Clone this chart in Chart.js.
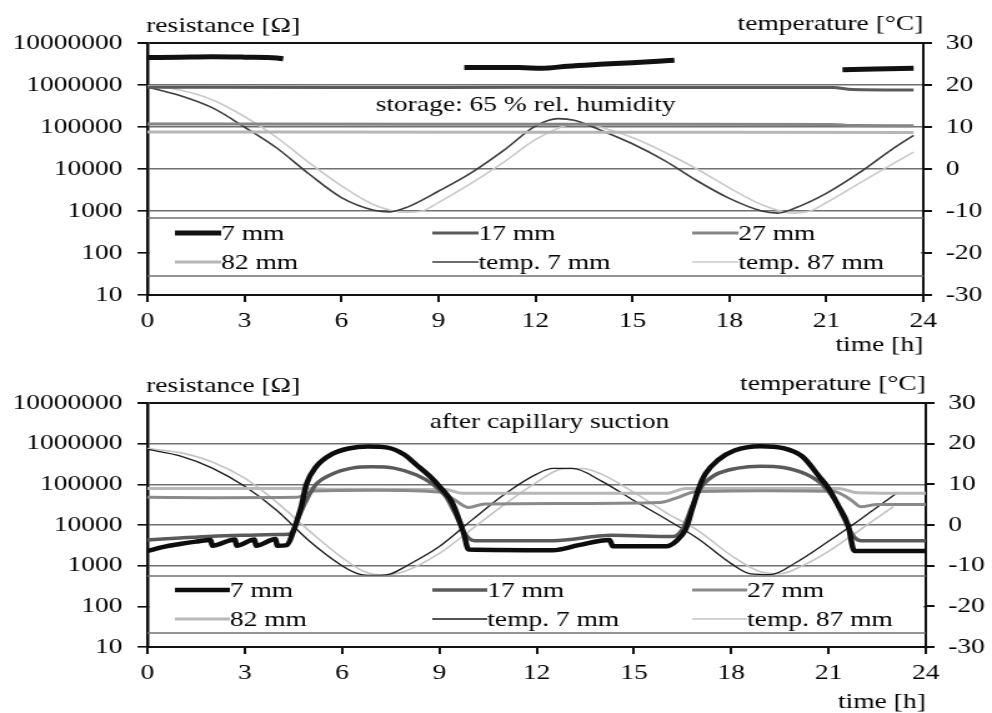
<!DOCTYPE html>
<html lang="en">
<head>
<meta charset="UTF-8">
<title>resistance and temperature, 24 h</title>
<script src="https://cdn.jsdelivr.net/npm/chart.js"></script>
<style>
  body { margin: 0; background: #fff; }
  canvas { display: block; }
</style>
</head>
<body>
<!-- drawn 794 px wide and shown 992 px wide: the scanned figure is stretched sideways -->
<canvas id="topChart" width="794" height="355" style="width:992px;height:355px"></canvas>
<canvas id="bottomChart" width="794" height="358" style="width:992px;height:358px"></canvas>
<script>
// axes
const timeTicks = [0, 3, 6, 9, 12, 15, 18, 21, 24];
const resTicks = [10, 100, 1000, 10000, 100000, 1000000, 10000000];
const tempTicks = [-30, -20, -10, 0, 10, 20, 30];
const seriesLabels = ['7 mm', '17 mm', '27 mm', '82 mm', 'temp. 7 mm', 'temp. 87 mm'];

// top: storage at 65 % rel. humidity  [time h, value]
const top7mm = [[0, 4.5e6], [1, 4.6e6], [2, 4.7e6], [3, 4.6e6], [4, 4.4e6], [4.2, 4.2e6], [4.3, null],
  [9.8, 2.6e6], [10.5, 2.6e6], [11.5, 2.6e6], [12.2, 2.5e6], [13, 2.8e6], [14, 3.1e6], [15, 3.4e6], [15.8, 3.7e6], [16.3, 3.9e6], [16.4, null],
  [21.5, 2.3e6], [22.5, 2.4e6], [23.7, 2.5e6]];
const top17mm = [[0, 8.9e5], [6, 8.7e5], [12, 8.8e5], [18, 8.7e5], [21.2, 8.7e5], [21.8, 7.8e5], [23.7, 7.6e5]];
const top27mm = [[0, 1.18e5], [8, 1.16e5], [16, 1.17e5], [21.2, 1.15e5], [21.8, 1.08e5], [23.7, 1.07e5]];
const top82mm = [[0, 7.6e4], [12, 7.5e4], [23.7, 7.4e4]];
const topTemp7 = [[0, 19.5], [1, 17.5], [2, 14.6], [3, 10], [4, 5], [5, -1.2], [6, -6.8], [7, -9.8], [7.5, -10.2], [8, -9.2],
  [9, -5.3], [10, -1], [11, 4.3], [12, 10.2], [12.7, 12], [13.2, 11.6], [14, 9.3], [15, 6], [16, 2], [17, -2.8], [18, -7],
  [19, -10], [19.5, -10.5], [20, -9.4], [21, -5.8], [22, -1], [23, 4.5], [23.7, 8]];
const topTemp87 = [[0, 19.8], [1, 18.8], [2, 16.5], [3, 12.5], [4, 7.5], [5, 1.5], [6, -4], [7, -8.5], [8, -10.3], [8.5, -10],
  [9, -8], [10, -3.5], [11, 1.5], [12, 7], [13, 10.5], [13.5, 10.8], [14, 10], [15, 7.5], [16, 4], [17, 0], [18, -4.5],
  [19, -8.5], [20, -10.5], [20.5, -10], [21, -8], [22, -3.5], [23, 1], [23.7, 4]];

// bottom: after capillary suction
const bot7mm = [[0, 2300], [0.5, 2900], [1, 3400], [1.5, 3900], [1.95, 4300], [2, 3100], [2.7, 4400], [2.75, 3100],
  [3.3, 4400], [3.35, 3100], [3.95, 4500], [4, 3100], [4.3, 3200], [4.5, 7000], [4.6, 1.2e4], [4.75, 3e4], [4.9, 1e5],
  [5.2, 2.7e5], [5.7, 5.6e5], [6.2, 7.6e5], [6.8, 8.5e5], [7.4, 8e5], [7.9, 5.5e5], [8.3, 3e5], [8.7, 1.6e5], [9, 9e4],
  [9.4, 3.5e4], [9.75, 6300], [9.9, 2500], [12.5, 2400], [13.3, 3200], [14.25, 4300], [14.35, 3000], [16, 3000],
  [16.3, 4000], [16.6, 8000], [16.8, 2.5e4], [17, 8e4], [17.2, 1.8e5], [17.6, 4e5], [18.1, 6.8e5], [18.9, 8.7e5],
  [19.6, 7.8e5], [20.2, 4.8e5], [20.7, 1.6e5], [21, 8e4], [21.3, 3e4], [21.6, 1e4], [21.8, 2300], [24, 2300]];
const bot17mm = [[0, 4300], [1, 4800], [2, 5300], [3, 5600], [4, 5800], [4.4, 6000], [4.6, 1.2e4], [4.9, 4e4], [5.2, 1e5],
  [5.7, 1.8e5], [6.3, 2.5e5], [6.9, 2.7e5], [7.6, 2.5e5], [8.3, 1.7e5], [8.8, 1e5], [9.2, 5e4], [9.5, 1.8e4], [9.8, 6000],
  [10.1, 4100], [12.5, 4100], [14.3, 5600], [16.2, 5200], [16.5, 8000], [16.8, 3e4], [17.1, 9e4], [17.5, 1.7e5],
  [18.2, 2.5e5], [18.9, 2.8e5], [19.6, 2.6e5], [20.3, 1.8e5], [20.8, 1e5], [21.2, 4e4], [21.5, 1.3e4], [21.8, 5000],
  [22, 4100], [24, 4100]];
const bot27mm = [[0, 4.8e4], [2, 4.7e4], [4.6, 4.8e4], [5.1, 6.9e4], [7, 7.2e4], [9, 6.5e4], [9.5, 4e4], [9.9, 2.7e4],
  [10.4, 3.3e4], [12.7, 3.4e4], [15.8, 3.6e4], [16.3, 4.6e4], [16.9, 6.6e4], [19, 7e4], [21.15, 6.8e4], [21.7, 4.1e4],
  [22, 2.8e4], [22.5, 3.2e4], [24, 3.2e4]];
const bot82mm = [[0, 7.9e4], [4.8, 7.9e4], [5.5, 7.6e4], [9.2, 7.5e4], [9.7, 6e4], [16, 6e4], [16.6, 7.9e4], [21.3, 7.9e4],
  [21.9, 6.2e4], [24, 6e4]];
const botTemp7 = [[0, 18.6], [1, 17], [2, 14], [3, 9.5], [4, 3.5], [5, -4], [6, -10], [6.5, -12], [7, -12.4], [7.5, -12],
  [8, -10], [9, -5.3], [10, 1.2], [11, 7.5], [12, 12.5], [12.5, 13.9], [13.1, 13.9], [14, 10.8], [15, 6], [16, 1.4],
  [17, -3.5], [18, -9.5], [18.6, -12], [19.2, -12.2], [20, -9.2], [21, -4], [22, 1.5], [23.1, 7.8]];
const botTemp87 = [[0, 18.8], [1, 17.8], [2, 15.5], [3, 11.5], [4, 5.5], [5, -1.5], [6, -8], [6.7, -11.5], [7.3, -12.3],
  [7.9, -11.5], [9, -7], [10, -1], [11, 5], [12, 10.5], [12.8, 13.8], [13.4, 13.9], [14, 12.5], [15, 8], [16, 3],
  [17, -1.5], [18, -7.5], [18.9, -11.5], [19.5, -12], [20.2, -10], [21, -6.5], [22, -1], [23, 4.5]];

const FONT = { family: "'Liberation Serif', 'DejaVu Serif', serif", size: 22 };
const INK = '#000';
const GRID = '#707070';

function pts(list) {
  return list.map(p => ({ x: p[0], y: p[1] }));
}

function line(i, list, axis, color, width) {
  return {
    label: seriesLabels[i], data: pts(list), yAxisID: axis,
    borderColor: color, borderWidth: width, pointRadius: 0,
    cubicInterpolationMode: 'monotone', spanGaps: false, fill: false
  };
}

// legend box, axis captions and the note inside the plot
const overlay = {
  id: 'overlay',
  afterDatasetsDraw(chart, args, o) {
    const ctx = chart.ctx, a = chart.chartArea;
    const top = a.bottom - o.boxTop, bot = a.bottom - o.boxBottom;
    ctx.save();
    ctx.fillStyle = '#fff';
    ctx.fillRect(a.left + 2, top, a.right - a.left - 4, bot - top);
    ctx.strokeStyle = GRID;
    ctx.lineWidth = 1.5;
    [top, bot].forEach(y => {
      ctx.beginPath(); ctx.moveTo(a.left, y); ctx.lineTo(a.right, y); ctx.stroke();
    });
    ctx.font = `${FONT.size}px ${FONT.family}`;
    ctx.textBaseline = 'middle';
    ctx.textAlign = 'left';
    ctx.fillStyle = INK;
    chart.data.datasets.forEach((ds, i) => {
      const x = a.left + [22, 228, 436][i % 3];
      const y = top + (i < 3 ? o.row1 : o.row2);
      ctx.strokeStyle = ds.borderColor;
      ctx.lineWidth = ds.borderWidth;
      ctx.beginPath(); ctx.moveTo(x, y); ctx.lineTo(x + o.sample, y); ctx.stroke();
      ctx.fillText(ds.label, x + o.sample, y + 1);
    });
    ctx.fillText('resistance [Ω]', a.left - 1, a.top - 17);
    ctx.textAlign = 'right';
    ctx.fillText('temperature [°C]', a.right, a.top - 19);
    ctx.fillText('time [h]', a.right, a.bottom + o.timeY);
    ctx.textAlign = 'center';
    ctx.fillText(o.note, chart.scales.x.getPixelForValue(o.noteX), a.top + o.noteY);
    ctx.restore();
  }
};

function makeChart(id, datasets, cfg) {
  return new Chart(document.getElementById(id), {
    type: 'line',
    data: { datasets },
    plugins: [overlay],
    options: {
      responsive: false,
      animation: false,
      events: [],
      layout: { padding: { top: cfg.top, left: 0, right: 0, bottom: 0 } },
      plugins: { legend: { display: false }, tooltip: { enabled: false }, overlay: cfg.overlay },
      scales: {
        x: {
          type: 'linear', min: 0, max: 24,
          afterBuildTicks: s => { s.ticks = timeTicks.map(v => ({ value: v })); },
          afterFit: s => { s.height = cfg.xHeight; },
          grid: { drawOnChartArea: false, tickLength: 7, color: '#111', lineWidth: 2 },
          border: { color: '#111', width: 2 },
          ticks: { font: FONT, color: INK, padding: 6, maxRotation: 0 }
        },
        y: {
          type: 'logarithmic', position: 'left', min: 10, max: 1e7,
          afterBuildTicks: s => { s.ticks = resTicks.map(v => ({ value: v })); },
          afterFit: s => { s.width = 118; },
          grid: {
            color: c => (c.tick && c.tick.value === 1e7) ? '#111' : GRID,
            lineWidth: c => (c.tick && c.tick.value === 1e7) ? 2 : 1.6,
            tickLength: 8, tickColor: '#111'
          },
          border: { color: '#111', width: 2.5 },
          ticks: { font: FONT, color: INK, padding: 12, callback: v => String(v) }
        },
        y2: {
          type: 'linear', position: 'right', min: -30, max: 30,
          afterBuildTicks: s => { s.ticks = tempTicks.map(v => ({ value: v })); },
          afterFit: s => { s.width = cfg.y2Width; },
          grid: { drawOnChartArea: false, tickLength: 7, color: '#111', lineWidth: 2 },
          border: { color: '#111', width: 2 },
          ticks: { font: FONT, color: INK, padding: 11 }
        }
      }
    }
  });
}

makeChart('topChart', [
  line(0, top7mm, 'y', '#111111', 5),
  line(1, top17mm, 'y', '#5a5a5a', 3),
  line(2, top27mm, 'y', '#858585', 3),
  line(3, top82mm, 'y', '#b6b6b6', 3),
  line(4, topTemp7, 'y2', '#3c3c3c', 1.6),
  line(5, topTemp87, 'y2', '#c9c9c9', 1.6)
], {
  top: 43, xHeight: 60, y2Width: 55,
  overlay: { boxTop: 77, boxBottom: 19, row1: 15, row2: 44, sample: 37, timeY: 50,
    note: 'storage: 65 % rel. humidity', noteX: 11.7, noteY: 62 }
});

makeChart('bottomChart', [
  line(0, bot7mm, 'y', '#0d0d0d', 4.5),
  line(1, bot17mm, 'y', '#5a5a5a', 3.5),
  line(2, bot27mm, 'y', '#8a8a8a', 3),
  line(3, bot82mm, 'y', '#b8b8b8', 3),
  line(4, botTemp7, 'y2', '#1a1a1a', 1.3),
  line(5, botTemp87, 'y2', '#c4c4c4', 1.6)
], {
  top: 48, xHeight: 66, y2Width: 53,
  overlay: { boxTop: 71, boxBottom: 14, row1: 14, row2: 43, sample: 44, timeY: 55,
    note: 'after capillary suction', noteX: 12.4, noteY: 19 }
});
</script>
</body>
</html>
